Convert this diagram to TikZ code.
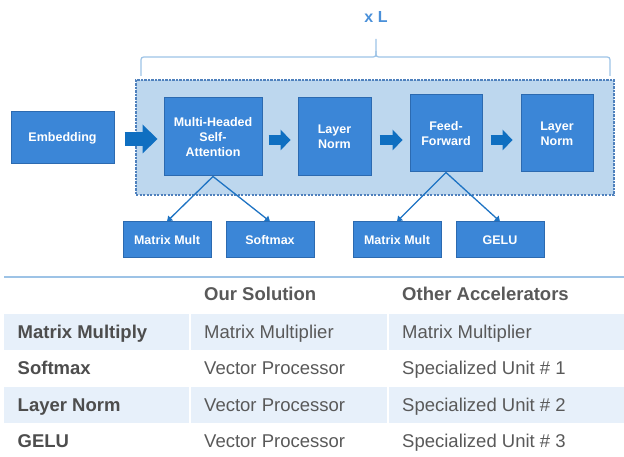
\documentclass[tikz,border=0pt]{standalone}
\usepackage{fontspec}
\setmainfont{Liberation Sans}
\usetikzlibrary{arrows.meta}

\definecolor{boxfill}{HTML}{3B86D7}
\definecolor{boxline}{HTML}{2C6AB0}
\definecolor{layerfill}{HTML}{BDD7EE}
\definecolor{layerline}{HTML}{4F81BD}
\definecolor{flow}{HTML}{0F6FC1}
\definecolor{link}{HTML}{1E73C3}
\definecolor{bracecol}{HTML}{9DC3E6}
\definecolor{rulecol}{HTML}{9DC3E6}
\definecolor{band}{HTML}{E7F0FA}
\definecolor{txt}{HTML}{595959}
\definecolor{lbl}{HTML}{4D4D4D}
\definecolor{xlcol}{HTML}{4A90D9}

\begin{document}
\begin{tikzpicture}[x=1pt,y=-1pt,
  block/.style={draw=boxline, line width=1pt, fill=boxfill, text=white,
    font=\fontsize{12.5}{15}\selectfont\bfseries, align=center, inner sep=0pt},
  layerbox/.style={draw=layerline, line width=1.1pt, dash pattern=on 2.2pt off 1.3pt,
    fill=layerfill, inner sep=0pt},
  bigflow/.style={draw=flow, line width=14pt,
    -{Triangle[width=29pt,length=15pt,line width=0pt]}},
  smallflow/.style={draw=flow, line width=10pt,
    -{Triangle[width=21pt,length=10pt,line width=0pt]}},
  linkarrow/.style={draw=link, line width=1.3pt,
    -{Triangle[width=6.5pt,length=5pt]}},
  bracepath/.style={draw=bracecol, line width=1.2pt},
  hdr/.style={font=\fontsize{18.5}{21}\selectfont\bfseries, text=txt, inner sep=0pt, anchor=base west},
  rowlbl/.style={font=\fontsize{18.5}{21}\selectfont\bfseries, text=lbl, inner sep=0pt, anchor=base west},
  cell/.style={font=\fontsize{18.5}{21}\selectfont, text=txt, inner sep=0pt, anchor=base west},
]
\useasboundingbox (0,0) rectangle (624,457);

% repeated encoder layer region
\node[layerbox, minimum width=478pt, minimum height=115pt] (layer) at (375,137.5) {};

% brace and repeat count
\draw[bracepath] (141,76) -- (141,63) .. controls (141,57) .. (147,57) -- (370,57)
  .. controls (376,57) .. (376,51) -- (376,39);
\draw[bracepath] (376,51) .. controls (376,57) .. (382,57) -- (604,57)
  .. controls (610,57) .. (610,63) -- (610,76);
\node[text=xlcol, font=\fontsize{16}{18}\selectfont\bfseries, inner sep=0pt] (xl) at (376,17) {x L};

% main blocks
\node[block, minimum width=103pt, minimum height=52pt] (embed) at (62.5,138) {Embedding};
\node[block, minimum width=98pt, minimum height=78pt] (mhsa) at (213,137) {Multi-Headed\\Self-\\Attention};
\node[block, minimum width=73pt, minimum height=78pt] (ln1) at (334.5,137) {Layer\\Norm};
\node[block, minimum width=72pt, minimum height=77pt] (ff) at (446,133.5) {Feed-\\Forward};
\node[block, minimum width=72pt, minimum height=77pt] (ln2) at (557,133.5) {Layer\\Norm};

% operation blocks
\node[block, minimum width=88pt, minimum height=36pt] (mm1) at (167,240) {Matrix Mult};
\node[block, minimum width=88pt, minimum height=36pt] (soft) at (270,240) {Softmax};
\node[block, minimum width=88pt, minimum height=36pt] (mm2) at (397,240) {Matrix Mult};
\node[block, minimum width=88pt, minimum height=36pt] (gelu) at (500,240) {GELU};

% data flow arrows
\draw[bigflow, shorten <=10pt, shorten >=6pt] ([yshift=-1pt]embed.east) -- ([yshift=-1pt]embed.east -| mhsa.west);
\draw[smallflow, shorten <=6pt, shorten >=7pt] ([yshift=-3pt]mhsa.east) -- ([yshift=-3pt]mhsa.east -| ln1.west);
\draw[smallflow, shorten <=8pt, shorten >=7pt] ([yshift=-3pt]ln1.east) -- ([yshift=-3pt]ln1.east -| ff.west);
\draw[smallflow, shorten <=8pt, shorten >=8pt] ([yshift=-6.5pt]ff.east) -- ([yshift=-6.5pt]ff.east -| ln2.west);

% decomposition into operations
\draw[linkarrow] (mhsa.south) -- (mm1.north);
\draw[linkarrow] (mhsa.south) -- (soft.north);
\draw[linkarrow] (ff.south) -- (mm2.north);
\draw[linkarrow] (ff.south) -- (gelu.north);

% comparison table
\draw[draw=rulecol, line width=1.5pt] (4,277) -- (624,277);
\foreach \top in {314,387}{
  \fill[band] (4,\top) rectangle (189,\top+36);
  \fill[band] (191,\top) rectangle (387,\top+36);
  \fill[band] (389,\top) rectangle (624,\top+36);
}
\node[hdr] (hsol) at (204,301) {Our Solution};
\node[hdr] (hoth) at (402,301) {Other Accelerators};

\node[rowlbl] (r1) at (17.5,338) {Matrix Multiply};
\node[cell] (r1a) at (204,338) {Matrix Multiplier};
\node[cell] (r1b) at (402,338) {Matrix Multiplier};

\node[rowlbl] (r2) at (17.5,374.5) {Softmax};
\node[cell] (r2a) at (204,374.5) {Vector Processor};
\node[cell] (r2b) at (402,374.5) {Specialized Unit \# 1};

\node[rowlbl] (r3) at (17.5,411) {Layer Norm};
\node[cell] (r3a) at (204,411) {Vector Processor};
\node[cell] (r3b) at (402,411) {Specialized Unit \# 2};

\node[rowlbl] (r4) at (17.5,447.5) {GELU};
\node[cell] (r4a) at (204,447.5) {Vector Processor};
\node[cell] (r4b) at (402,447.5) {Specialized Unit \# 3};
\end{tikzpicture}
\end{document}
